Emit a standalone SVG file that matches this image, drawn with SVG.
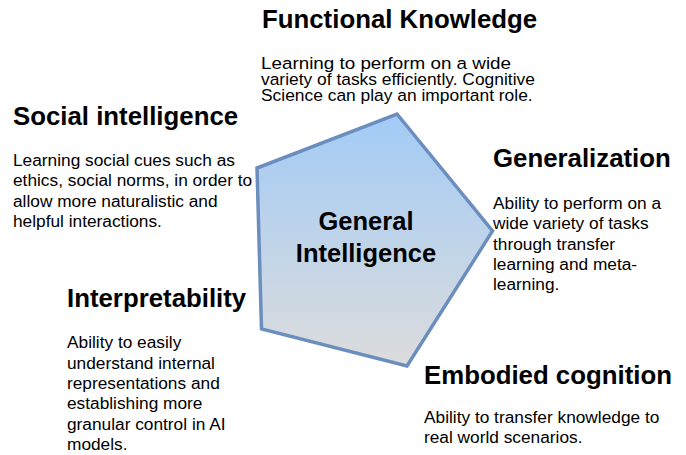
<svg xmlns="http://www.w3.org/2000/svg" width="686" height="455" viewBox="0 0 686 455">
  <defs>
    <linearGradient id="fillGrad" x1="0" y1="0" x2="0" y2="1">
      <stop offset="0" stop-color="#a2cbf6"/>
      <stop offset="1" stop-color="#dcdcdc"/>
    </linearGradient>
  </defs>
  <style>
    .h { font-family: "Liberation Sans", Arial, sans-serif; font-weight: bold; font-size: 25.8px; fill: #000; }
    .b { font-family: "Liberation Sans", Arial, sans-serif; font-size: 17.3px; fill: #000; }
    .bf { font-family: "Liberation Sans", Arial, sans-serif; font-size: 17.4px; fill: #000; }
    .c { font-family: "Liberation Sans", Arial, sans-serif; font-weight: bold; font-size: 25.5px; fill: #000; text-anchor: middle; }
  </style>
  <rect width="686" height="455" fill="#fff"/>
  <g id="core">
    <polygon points="397,114 492.5,231 407,366 261.5,329 257,168" fill="url(#fillGrad)" stroke="#6c8ebf" stroke-width="3.5" stroke-linejoin="miter"/>
    <text class="c" x="366" y="230">General</text>
    <text class="c" x="366" y="262">Intelligence</text>
  </g>
  <g id="functional-knowledge">
    <text class="h" x="262" y="28">Functional Knowledge</text>
    <text class="bf" x="261" y="68.5" textLength="250" lengthAdjust="spacingAndGlyphs">Learning to perform on a wide</text>
    <text class="bf" x="261" y="84.5">variety of tasks efficiently. Cognitive</text>
    <text class="bf" x="261" y="100.5">Science can play an important role.</text>
  </g>
  <g id="social-intelligence">
    <text class="h" x="13" y="124.5">Social intelligence</text>
    <text class="b" x="13" y="165.5">Learning social cues such as</text>
    <text class="b" x="13" y="186">ethics, social norms, in order to</text>
    <text class="b" x="13" y="206.5">allow more naturalistic and</text>
    <text class="b" x="13" y="227">helpful interactions.</text>
  </g>
  <g id="generalization">
    <text class="h" x="493" y="167">Generalization</text>
    <text class="b" x="493" y="208.5">Ability to perform on a</text>
    <text class="b" x="493" y="229">wide variety of tasks</text>
    <text class="b" x="493" y="249.5">through transfer</text>
    <text class="b" x="493" y="270">learning and meta-</text>
    <text class="b" x="493" y="290">learning.</text>
  </g>
  <g id="interpretability">
    <text class="h" x="67" y="307">Interpretability</text>
    <text class="b" x="67" y="348">Ability to easily</text>
    <text class="b" x="67" y="368.5">understand internal</text>
    <text class="b" x="67" y="389">representations and</text>
    <text class="b" x="67" y="409">establishing more</text>
    <text class="b" x="67" y="429.5">granular control in AI</text>
    <text class="b" x="67" y="449.5">models.</text>
  </g>
  <g id="embodied-cognition">
    <text class="h" x="424" y="384">Embodied cognition</text>
    <text class="b" x="424" y="422.5">Ability to transfer knowledge to</text>
    <text class="b" x="424" y="443">real world scenarios.</text>
  </g>
  <g id="connectors"></g>
</svg>
